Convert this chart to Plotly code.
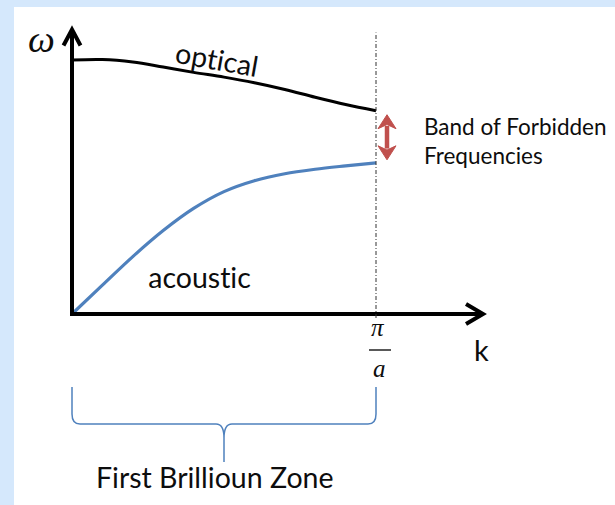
import plotly.graph_objects as go

# ---- data (k in units of pi/a, omega in arbitrary units) ----
k_values = [0.0, 0.1, 0.2, 0.3, 0.4, 0.5, 0.6, 0.7, 0.8, 0.9, 1.0]
omega_optical = [0.907, 0.909, 0.900, 0.882, 0.863, 0.846, 0.826, 0.802, 0.774, 0.748, 0.726]
omega_acoustic = [0.0, 0.103, 0.205, 0.298, 0.377, 0.437, 0.476, 0.501, 0.517, 0.529, 0.540]

branch_labels = ["optical", "acoustic"]
gap_label = ["Band of Forbidden", "Frequencies"]
zone_label = "First Brillioun Zone"
k_axis_label = "k"
omega_axis_label = "ω"
zone_edge_label = ("π", "a")

ZONE_EDGE = 1.0
K_AXIS_END = 1.352
OMEGA_AXIS_TOP = 1.016

# ---- scale helpers (pixel offsets -> data offsets) ----
PX_K = 304.0
PX_W = 280.0


def dk(px):
    return px / PX_K


def dw(px):
    return px / PX_W


BLACK = "#000000"
BLUE = "#4F81BD"
RED = "#C0504D"
TEXT = "#0d0d0d"
BORDER = "#D5E8FC"
SANS = "Lato, 'Open Sans', sans-serif"
SERIF = "'Liberation Serif', 'DejaVu Serif', serif"

fig = go.Figure()

# dispersion branches
fig.add_trace(go.Scatter(x=k_values, y=omega_optical, mode="lines",
                         line=dict(color=BLACK, width=3, shape="spline", smoothing=1.0),
                         hoverinfo="skip", showlegend=False))
fig.add_trace(go.Scatter(x=k_values, y=omega_acoustic, mode="lines",
                         line=dict(color=BLUE, width=3.2, shape="spline", smoothing=1.0),
                         hoverinfo="skip", showlegend=False))

shapes = []
# axes
shapes.append(dict(type="line", xref="x", yref="y", x0=0, y0=0, x1=0, y1=OMEGA_AXIS_TOP - dw(1),
                   line=dict(color=BLACK, width=4)))
shapes.append(dict(type="line", xref="x", yref="y", x0=-dk(2), y0=0, x1=K_AXIS_END - dk(1), y1=0,
                   line=dict(color=BLACK, width=4)))
# arrow chevrons
shapes.append(dict(type="path", xref="x", yref="y",
                   path=f"M {-dk(8.5)},{OMEGA_AXIS_TOP - dw(16)} L 0,{OMEGA_AXIS_TOP} L {dk(8.5)},{OMEGA_AXIS_TOP - dw(16)}",
                   line=dict(color=BLACK, width=4)))
shapes.append(dict(type="path", xref="x", yref="y",
                   path=f"M {K_AXIS_END - dk(17)},{dw(10)} L {K_AXIS_END},0 L {K_AXIS_END - dk(17)},{-dw(10)}",
                   line=dict(color=BLACK, width=4)))
# zone edge dashed line
shapes.append(dict(type="line", xref="x", yref="y", x0=ZONE_EDGE, y0=-dw(4), x1=ZONE_EDGE, y1=OMEGA_AXIS_TOP - dw(3),
                   line=dict(color="#333333", width=1, dash="4px,2px,1px,2px")))

# forbidden band double arrow
arrow_k = ZONE_EDGE + dk(11)
w_top = omega_optical[-1] - dw(4)
w_bot = omega_acoustic[-1] + dw(3)
head_h = dw(14)
head_w = dk(9)
shapes.append(dict(type="line", xref="x", yref="y", x0=arrow_k, y0=w_bot + head_h * 0.8, x1=arrow_k,
                   y1=w_top - head_h * 0.8, line=dict(color=RED, width=4.5)))
shapes.append(dict(type="path", xref="x", yref="y",
                   path=f"M {arrow_k},{w_top} L {arrow_k + head_w},{w_top - head_h} L {arrow_k},{w_top - head_h * 0.7} L {arrow_k - head_w},{w_top - head_h} Z",
                   fillcolor=RED, line=dict(color=RED, width=1)))
shapes.append(dict(type="path", xref="x", yref="y",
                   path=f"M {arrow_k},{w_bot} L {arrow_k + head_w},{w_bot + head_h} L {arrow_k},{w_bot + head_h * 0.7} L {arrow_k - head_w},{w_bot + head_h} Z",
                   fillcolor=RED, line=dict(color=RED, width=1)))

# fraction bar of pi/a
shapes.append(dict(type="line", xref="x", yref="y", x0=ZONE_EDGE - dk(7), y0=-dw(36), x1=ZONE_EDGE + dk(15), y1=-dw(36),
                   line=dict(color="#222222", width=1.5)))

# brace under the first Brillouin zone
b_top = -dw(73)
b_mid = -dw(110)
b_tip = -dw(148)
c = 0.5 * ZONE_EDGE
r_k = dk(8)
r_w = dw(10)
brace = (
    f"M 0,{b_top} L 0,{b_mid + r_w} Q 0,{b_mid} {r_k},{b_mid} "
    f"L {c - r_k},{b_mid} Q {c},{b_mid} {c},{b_mid - r_w * 1.4} L {c},{b_tip} "
    f"M {c},{b_mid - r_w * 1.4} Q {c},{b_mid} {c + r_k},{b_mid} "
    f"L {ZONE_EDGE - r_k},{b_mid} Q {ZONE_EDGE},{b_mid} {ZONE_EDGE},{b_mid + r_w} L {ZONE_EDGE},{b_top}"
)
shapes.append(dict(type="path", xref="x", yref="y", path=brace, line=dict(color=BLUE, width=1.5)))

annotations = [
    dict(x=-dk(31), y=OMEGA_AXIS_TOP - dw(9), text=f"<i>{omega_axis_label}</i>",
         font=dict(family=SERIF, size=38, color=TEXT)),
    dict(x=0.477, y=omega_optical[5] + dw(18), text=branch_labels[0], textangle=10,
         font=dict(family=SANS, size=28.5, color=TEXT)),
    dict(x=0.421, y=dw(37), text=branch_labels[1],
         font=dict(family=SANS, size=28.5, color=TEXT)),
    dict(x=ZONE_EDGE + dk(46), y=w_top - dw(12), text=gap_label[0], xanchor="left",
         font=dict(family=SANS, size=22.5, color=TEXT)),
    dict(x=ZONE_EDGE + dk(46), y=w_top - dw(41), text=gap_label[1], xanchor="left",
         font=dict(family=SANS, size=22.5, color=TEXT)),
    dict(x=K_AXIS_END - dk(2), y=-dw(35), text=k_axis_label,
         font=dict(family=SANS, size=29, color=TEXT)),
    dict(x=ZONE_EDGE + dk(2), y=-dw(13), text=f"<i>{zone_edge_label[0]}</i>",
         font=dict(family=SERIF, size=25, color=TEXT)),
    dict(x=ZONE_EDGE + dk(3), y=-dw(54), text=f"<i>{zone_edge_label[1]}</i>",
         font=dict(family=SERIF, size=25, color=TEXT)),
    dict(x=c - dk(9), y=-dw(163), text=zone_label,
         font=dict(family=SANS, size=28.5, color=TEXT)),
]
for a in annotations:
    a.update(xref="x", yref="y", showarrow=False)

fig.update_layout(
    width=615, height=505,
    margin=dict(l=14, r=0, t=7, b=0),
    paper_bgcolor=BORDER,
    plot_bgcolor="#FFFFFF",
    xaxis=dict(range=[-58 / PX_K, 543 / PX_K], visible=False, fixedrange=True),
    yaxis=dict(range=[-191 / PX_W, 307 / PX_W], visible=False, fixedrange=True),
    shapes=shapes,
    annotations=annotations,
    showlegend=False,
)

fig.write_html(
    "out.html",
    config={"displayModeBar": False},
    post_script=(
        "document.body.style.margin='0';"
        "document.body.style.overflow='hidden';"
        f"document.body.style.background='{BORDER}';"
        "var st=document.createElement('style');"
        "st.textContent='text{font-variant-ligatures:none !important;font-feature-settings:\"liga\" 0 !important;}';"
        "document.head.appendChild(st);"
    ),
)
